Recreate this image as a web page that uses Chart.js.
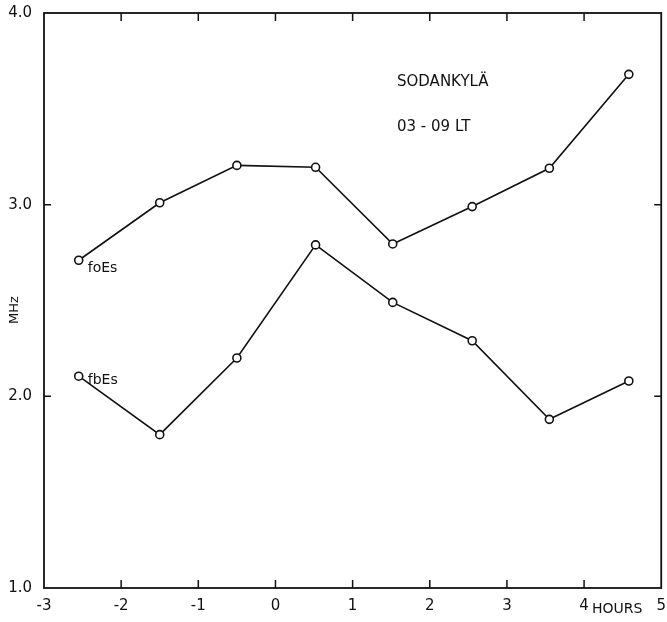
<!DOCTYPE html>
<html>
<head>
<meta charset="utf-8">
<script src="https://cdn.jsdelivr.net/npm/chart.js@4"></script>
<style>
  html, body { margin: 0; padding: 0; background: #fff; }
  #wrap { width: 667px; height: 622px; }
</style>
</head>
<body>
<div id="wrap"><canvas id="esChart" width="667" height="622"></canvas></div>
<script>
// hours relative to the event
const hours = [-2.55, -1.5, -0.5, 0.52, 1.52, 2.55, 3.55, 4.58];
const foEs = [2.71, 3.01, 3.205, 3.195, 2.795, 2.99, 3.19, 3.68];
const fbEs = [2.105, 1.80, 2.20, 2.79, 2.49, 2.29, 1.88, 2.08];
const xTicks = [-3, -2, -1, 0, 1, 2, 3, 4, 5];
const yTicks = [1.0, 2.0, 3.0, 4.0];

const FONT = '"DejaVu Sans", sans-serif';

const toPts = (xs, ys) => xs.map((x, i) => ({ x: x, y: ys[i] }));

// frame, inward ticks and the hand lettering
const framePlugin = {
  id: 'frame',
  afterDraw(chart) {
    const ctx = chart.ctx;
    const a = chart.chartArea;
    const xs = chart.scales.x;
    const ys = chart.scales.y;
    ctx.save();
    ctx.strokeStyle = '#111';
    ctx.lineWidth = 1.8;
    ctx.strokeRect(a.left, a.top, a.right - a.left, a.bottom - a.top);

    ctx.lineWidth = 1.5;
    ctx.beginPath();
    xTicks.slice(1, -1).forEach(v => {
      const px = xs.getPixelForValue(v);
      ctx.moveTo(px, a.bottom); ctx.lineTo(px, a.bottom - 8);
      ctx.moveTo(px, a.top); ctx.lineTo(px, a.top + 8);
    });
    [2.0, 3.0].forEach(v => {
      const py = ys.getPixelForValue(v);
      ctx.moveTo(a.left, py); ctx.lineTo(a.left + 7, py);
      ctx.moveTo(a.right, py); ctx.lineTo(a.right - 7, py);
    });
    ctx.stroke();

    ctx.fillStyle = '#111';
    ctx.font = '15px ' + FONT;
    ctx.textBaseline = 'middle';
    ctx.textAlign = 'left';
    ctx.fillText('SODANKYLÄ', 397, 82);
    ctx.fillText('03 - 09 LT', 397, 127);

    ctx.font = '14px ' + FONT;
    ctx.fillText('foEs', xs.getPixelForValue(hours[0]) + 9, ys.getPixelForValue(foEs[0]) + 8);
    ctx.fillText('fbEs', xs.getPixelForValue(hours[0]) + 9, ys.getPixelForValue(fbEs[0]) + 4);

    ctx.fillText('HOURS', xs.getPixelForValue(4) + 8, 609);

    ctx.translate(15, 310);
    ctx.rotate(-Math.PI / 2);
    ctx.textAlign = 'center';
    ctx.font = '13px ' + FONT;
    ctx.fillText('MHz', 0, 0);
    ctx.restore();
  }
};

const lineDs = (label, data) => ({
  label: label,
  data: data,
  borderColor: '#111',
  borderWidth: 1.6,
  pointRadius: 4,
  pointBorderWidth: 1.6,
  pointBackgroundColor: '#fff',
  pointBorderColor: '#111',
  tension: 0,
  fill: false
});

const ctx = document.getElementById('esChart').getContext('2d');
new Chart(ctx, {
  type: 'line',
  data: {
    datasets: [
      lineDs('foEs', toPts(hours, foEs)),
      lineDs('fbEs', toPts(hours, fbEs))
    ]
  },
  options: {
    responsive: false,
    animation: false,
    layout: { padding: { top: 10, right: 4, left: 0, bottom: 0 } },
    plugins: { legend: { display: false }, tooltip: { enabled: false } },
    scales: {
      x: {
        type: 'linear',
        min: -3,
        max: 5,
        afterFit: s => { s.height = 34; },
        afterBuildTicks: s => { s.ticks = xTicks.map(v => ({ value: v })); },
        grid: { display: false },
        border: { display: false },
        ticks: {
          color: '#111',
          font: { family: FONT, size: 15 },
          padding: 1,
          maxRotation: 0,
          callback: v => String(v)
        }
      },
      y: {
        min: 1,
        max: 4,
        afterFit: s => { s.width = 44; },
        afterBuildTicks: s => { s.ticks = yTicks.map(v => ({ value: v })); },
        grid: { display: false },
        border: { display: false },
        ticks: {
          color: '#111',
          font: { family: FONT, size: 15 },
          padding: 4,
          callback: v => v.toFixed(1)
        }
      }
    }
  },
  plugins: [framePlugin]
});
</script>
</body>
</html>
